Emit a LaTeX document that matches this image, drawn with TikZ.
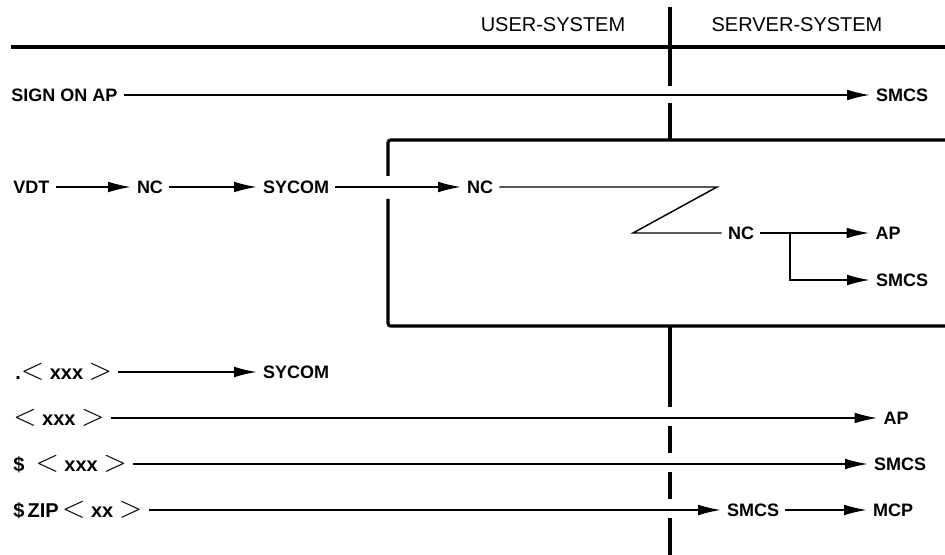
\documentclass[tikz,border=0pt]{standalone}
\usepackage{fontspec}
\setmainfont{Liberation Sans}
\usetikzlibrary{positioning,arrows.meta}
\newcommand{\ang}[1]{\scalebox{1.6}{$#1$}}

\begin{document}
\begin{tikzpicture}[
  x=0.75pt, y=-0.75pt,
  lbl/.style={font=\fontsize{13.5}{16}\selectfont\bfseries, inner sep=4.5pt},
  cmd/.style={lbl, anchor=west, font=\fontsize{15}{16}\selectfont\bfseries},
  hdr/.style={font=\fontsize{15}{18}\selectfont},
  arr/.style={-{Latex[length=17pt,width=8pt]}, line width=1.1pt},
  wire/.style={line width=1.1pt},
  heavy/.style={line width=2.4pt}]
\useasboundingbox (0,0) rectangle (945,555);
% header and system border
\node[hdr] (user) at (553,25) {USER-SYSTEM};
\node[hdr] (server) at (797,25) {SERVER-SYSTEM};
\draw[heavy] (11,47) -- (945,47);
\foreach \a/\b in {7/86, 103/140, 327/407, 426/453, 472/499, 518/555}
  \draw[heavy] (670,\a) -- (670,\b);
\draw[heavy, rounded corners=2pt] (388,176) -- (388,140) -- (945,140);
\draw[heavy, rounded corners=2pt] (388,199) -- (388,326) -- (945,326);
% sign on
\node[lbl, anchor=west] (signon) at (5,95) {SIGN ON AP};
\node[lbl] (smcsA) at (902,95) {SMCS};
\draw[arr] (signon) -- (smcsA);
% terminal path
\node[lbl, anchor=west] (vdt) at (7,187) {VDT};
\node[lbl] (ncA) at (150,187) {NC};
\node[lbl] (sycomA) at (296,187) {SYCOM};
\node[lbl] (ncB) at (480,187) {NC};
\node[lbl] (ncC) at (741,233) {NC};
\node[lbl] (apA) at (888,233) {AP};
\node[lbl] (smcsB) at (902,280) {SMCS};
\coordinate (zt) at (717,187);
\coordinate (zb) at (633,233);
\coordinate (fork) at (790,233);
\draw[arr] (vdt) -- (ncA);
\draw[arr] (ncA) -- (sycomA);
\draw[arr] (sycomA) -- (ncB);
\draw[wire] (ncB.east) -- (zt) -- (zb) -- (ncC.west);
\draw[arr] (ncC) -- (apA);
\draw[arr] (fork) |- (smcsB.west);
% commands
\node[cmd] (dotx) at (9,372) {.\ang{<}\ xxx\ \ang{>}};
\node[lbl] (sycomB) at (296,372) {SYCOM};
\node[cmd] (ltx) at (7,418) {\ang{<}\ xxx\ \ang{>}};
\node[lbl] (apB) at (896,418) {AP};
\node[cmd] (dolx) at (7,464) {\$\ \ \ang{<}\ xxx\ \ang{>}};
\node[lbl] (smcsC) at (900,464) {SMCS};
\node[cmd] (zip) at (7,510) {\$\,ZIP\,\ang{<}\ xx\ \ang{>}};
\node[lbl] (smcsD) at (753,510) {SMCS};
\node[lbl] (mcp) at (893,510) {MCP};
\draw[arr] (dotx) -- (sycomB);
\draw[arr] (ltx) -- (apB);
\draw[arr] (dolx) -- (smcsC);
\draw[arr] (zip) -- (smcsD);
\draw[arr] (smcsD) -- (mcp);
\end{tikzpicture}
\end{document}
